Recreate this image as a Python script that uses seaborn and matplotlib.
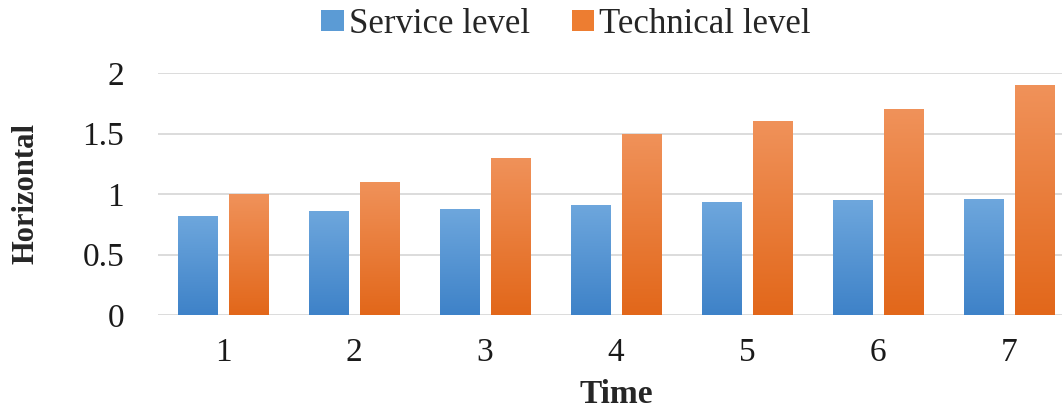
import numpy as np
import pandas as pd
import matplotlib
matplotlib.use("Agg")
import matplotlib.pyplot as plt
from matplotlib.colors import LinearSegmentedColormap
from matplotlib.patches import Patch
import seaborn as sns

times = ["1", "2", "3", "4", "5", "6", "7"]
service = [0.82, 0.86, 0.88, 0.91, 0.93, 0.95, 0.96]
technical = [1.0, 1.1, 1.3, 1.5, 1.6, 1.7, 1.9]
series_names = ["Service level", "Technical level"]

df = pd.DataFrame({
    "time": times * 2,
    "value": service + technical,
    "series": [series_names[0]] * len(times) + [series_names[1]] * len(times),
})

sns.set_theme(style="white")
plt.rcParams["font.family"] = ["Liberation Serif", "DejaVu Serif"]

palette = {"Service level": "#5b9bd5", "Technical level": "#ed7d31"}
gradients = {
    "Service level": ("#3e82c8", "#6ea7dd"),
    "Technical level": ("#e2671a", "#f0925a"),
}

fig = plt.figure(figsize=(10.62, 4.12), dpi=100)
ax = fig.add_axes([157.5 / 1062, 97 / 412, 917 / 1062, 242 / 412])

sns.barplot(data=df, x="time", y="value", hue="series", palette=palette,
            width=0.78, gap=0.22, legend=False, ax=ax)

# repaint bars with a vertical gradient (darker bottom, lighter top)
for container, name in zip(ax.containers, series_names):
    cmap = LinearSegmentedColormap.from_list(name, gradients[name])
    grad = np.linspace(0, 1, 256).reshape(-1, 1)
    for bar in container:
        x0, y0 = bar.get_x(), bar.get_y()
        w, h = bar.get_width(), bar.get_height()
        bar.set_facecolor("none")
        bar.set_edgecolor("none")
        im = ax.imshow(grad, cmap=cmap, origin="lower", aspect="auto",
                       extent=[x0, x0 + w, y0, y0 + h], zorder=2)
        im.set_clip_path(bar)

ax.set_xlim(-0.5, 6.5)
ax.set_ylim(0, 2)
ax.set_yticks([0, 0.5, 1, 1.5, 2])
ax.set_yticklabels(["0", "0.5", "1", "1.5", "2"])
ax.yaxis.grid(True, color="#d9d9d9", linewidth=1.3, zorder=0)
ax.set_axisbelow(True)
sns.despine(ax=ax, left=True, bottom=True, top=True, right=True)
ax.tick_params(axis="both", length=0, labelsize=24, colors="#1a1a1a")
ax.tick_params(axis="x", pad=16)
ax.tick_params(axis="y", pad=24)

ax.set_xlabel("Time", fontsize=24, fontweight="bold", labelpad=8)
ax.set_ylabel("Horizontal", fontsize=22, fontweight="bold", labelpad=30)

handles = [Patch(facecolor=palette[n], edgecolor="none") for n in series_names]
fig.legend(handles, series_names, loc="center", bbox_to_anchor=(0.533, 0.94),
           ncol=2, frameon=False, fontsize=25, handlelength=0.65,
           handleheight=0.55, handletextpad=0.15, columnspacing=1.2)

fig.savefig("out.png", dpi=100)
